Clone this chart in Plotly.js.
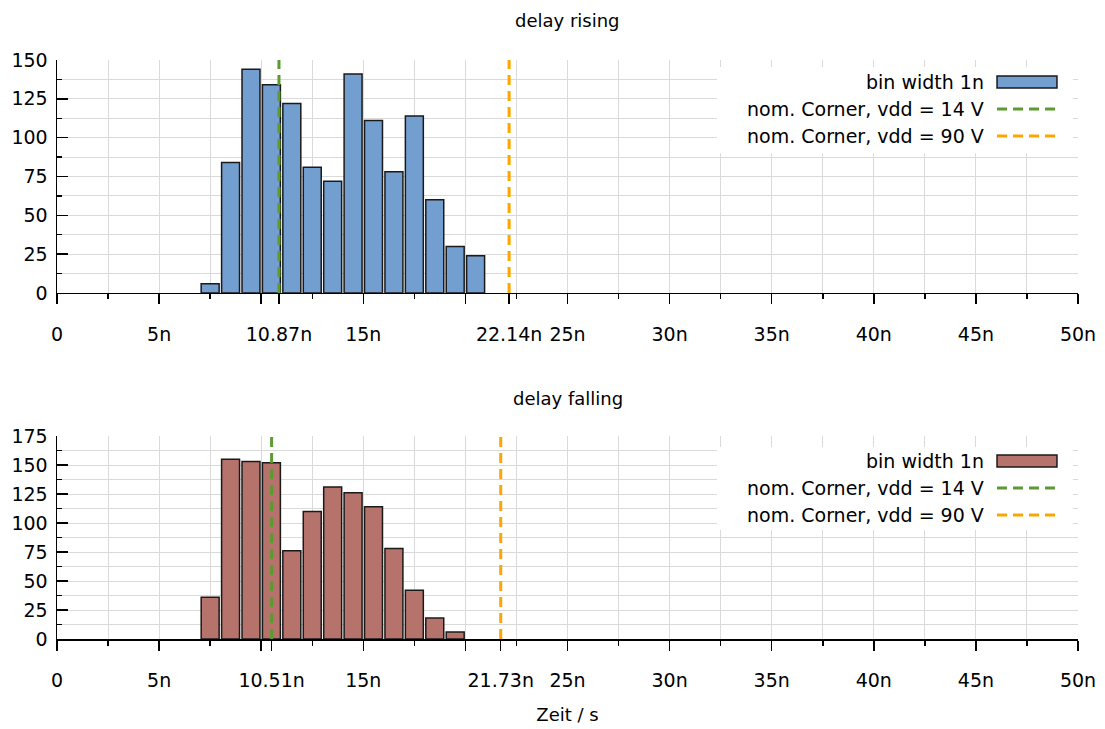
<!DOCTYPE html>
<html>
<head>
<meta charset="utf-8">
<script src="https://cdn.plot.ly/plotly-3.0.1.min.js"></script>
<style>html,body{margin:0;padding:0;background:#fff;}#chart{width:1105px;height:729px;}</style>
</head>
<body>
<div id="chart"></div>
<script>
// bin centres in ns (bin width 1n)
const risingBinCenters = [7.5, 8.5, 9.5, 10.5, 11.5, 12.5, 13.5, 14.5, 15.5, 16.5, 17.5, 18.5, 19.5, 20.5];
const risingCounts     = [6, 84, 144, 134, 122, 81, 72, 141, 111, 78, 114, 60, 30, 24];
const fallingBinCenters = [7.5, 8.5, 9.5, 10.5, 11.5, 12.5, 13.5, 14.5, 15.5, 16.5, 17.5, 18.5, 19.5];
const fallingCounts     = [36, 155, 153, 152, 76, 110, 131, 126, 114, 78, 42, 18, 6];
// nominal corner delays in ns
const risingNom14 = 10.87, risingNom90 = 22.14;
const fallingNom14 = 10.51, fallingNom90 = 21.73;
const risingYMax = 150, fallingYMax = 175;
const risingTickVals  = [0, 5, 10, 10.87, 15, 20, 22.14, 25, 30, 35, 40, 45, 50];
const risingTickText  = ['0', '5n', '', '10.87n', '15n', '', '22.14n', '25n', '30n', '35n', '40n', '45n', '50n'];
const fallingTickVals = [0, 5, 10, 10.51, 15, 20, 21.73, 25, 30, 35, 40, 45, 50];
const fallingTickText = ['0', '5n', '', '10.51n', '15n', '', '21.73n', '25n', '30n', '35n', '40n', '45n', '50n'];
const legendLabels = ['bin width 1n', 'nom. Corner, vdd = 14 V', 'nom. Corner, vdd = 90 V'];
const titles = ['delay rising', 'delay falling'];
const xTitle = 'Zeit / s';

const FONT = 'DejaVu Sans, Verdana, sans-serif';
const FS = 19;
const BLUE = '#729fcf', BROWN = '#b5736b', GREEN = '#5b9b32', ORANGE = '#ffa500';
const GRID = '#dadada';

function barTrace(x, y, color, xa, ya) {
  return {type: 'bar', x: x, y: y, width: 0.88, xaxis: xa, yaxis: ya,
    marker: {color: color, line: {color: '#1a1a1a', width: 1.5}}, showlegend: false, hoverinfo: 'x+y'};
}
function vline(x, ymax, color, xa, ya) {
  return {type: 'scatter', mode: 'lines', x: [x, x], y: [0, ymax], xaxis: xa, yaxis: ya,
    line: {color: color, width: 3, dash: '10px,6px'}, showlegend: false, hoverinfo: 'x'};
}

const data = [
  barTrace(risingBinCenters, risingCounts, BLUE, 'x', 'y'),
  vline(risingNom14, risingYMax, GREEN, 'x', 'y'),
  vline(risingNom90, risingYMax, ORANGE, 'x', 'y'),
  barTrace(fallingBinCenters, fallingCounts, BROWN, 'x2', 'y2'),
  vline(fallingNom14, fallingYMax, GREEN, 'x2', 'y2'),
  vline(fallingNom90, fallingYMax, ORANGE, 'x2', 'y2')
];

function xaxisDef(vals, text, anchor) {
  return {anchor: anchor, range: [0, 50], tickmode: 'array', tickvals: vals, ticktext: text,
    ticks: 'outside', ticklen: 10, tickwidth: 1.5, tickcolor: '#000', showgrid: false,
    showline: true, linecolor: '#000', linewidth: 1.5, zeroline: false,
    ticklabelstandoff: 14,
    tickfont: {family: FONT, size: FS, color: '#000'},
    minor: {dtick: 2.5, tick0: 0, ticks: 'outside', ticklen: 5, tickcolor: '#000', showgrid: true, gridcolor: GRID, gridwidth: 1}};
}
function yaxisDef(max, domain, anchor) {
  return {anchor: anchor, domain: domain, range: [0, max], dtick: 25, tick0: 0,
    ticks: 'inside', ticklen: 11, tickwidth: 1.5, tickcolor: '#000',
    showgrid: true, gridcolor: GRID, gridwidth: 1, zeroline: false,
    showline: true, linecolor: '#000', linewidth: 1.5, ticklabelstandoff: 4,
    tickfont: {family: FONT, size: FS, color: '#000'},
    minor: {dtick: 12.5, tick0: 0, ticks: 'inside', ticklen: 5, tickcolor: '#000', showgrid: true, gridcolor: GRID, gridwidth: 1}};
}

const shapes = [], annotations = [];
function addLegend(xa, ya, fill, rows, box) {
  const xr = xa + ' domain', yr = ya + ' domain';
  shapes.push({type: 'rect', xref: xr, yref: yr, x0: 0.6464, x1: 0.995, y0: box[0], y1: box[1],
    fillcolor: '#fff', line: {width: 0}, layer: 'above'});
  shapes.push({type: 'rect', xref: xr, yref: yr, x0: 0.9207, x1: 0.9794, y0: rows[0] - rows[3], y1: rows[0] + rows[3],
    fillcolor: fill, line: {color: '#1a1a1a', width: 1.5}, layer: 'above'});
  shapes.push({type: 'line', xref: xr, yref: yr, x0: 0.9207, x1: 0.9794, y0: rows[1], y1: rows[1],
    line: {color: GREEN, width: 3, dash: '10px,6px'}, layer: 'above'});
  shapes.push({type: 'line', xref: xr, yref: yr, x0: 0.9207, x1: 0.9794, y0: rows[2], y1: rows[2],
    line: {color: ORANGE, width: 3, dash: '10px,6px'}, layer: 'above'});
  for (let i = 0; i < 3; i++) {
    annotations.push({xref: xr, yref: yr, x: 0.9099, y: rows[i], xanchor: 'right', yanchor: 'middle',
      text: legendLabels[i], showarrow: false, font: {family: FONT, size: FS, color: '#000'}});
  }
}
addLegend('x', 'y', BLUE, [0.9056, 0.7897, 0.6738, 0.026], [0.60, 0.97]);
addLegend('x2', 'y2', BROWN, [0.8768, 0.7438, 0.6108, 0.030], [0.537, 0.946]);

annotations.push({xref: 'paper', yref: 'paper', x: 0.5, y: 1, yshift: 40, xanchor: 'center', yanchor: 'middle',
  text: titles[0], showarrow: false, font: {family: FONT, size: 18, color: '#000'}});
annotations.push({xref: 'paper', yref: 'paper', x: 0.5, y: 0.3506, yshift: 38, xanchor: 'center', yanchor: 'middle',
  text: titles[1], showarrow: false, font: {family: FONT, size: 18, color: '#000'}});

const layout = {
  width: 1105, height: 729,
  margin: {l: 57, r: 27, t: 60, b: 90},
  paper_bgcolor: '#fff', plot_bgcolor: '#fff',
  showlegend: false, bargap: 0,
  font: {family: FONT, size: FS, color: '#000'},
  xaxis: xaxisDef(risingTickVals, risingTickText, 'y'),
  yaxis: yaxisDef(risingYMax, [0.5976, 1], 'x'),
  xaxis2: Object.assign(xaxisDef(fallingTickVals, fallingTickText, 'y2'),
    {title: {text: xTitle, font: {family: FONT, size: 18, color: '#000'}, standoff: 18}}),
  yaxis2: yaxisDef(fallingYMax, [0, 0.3506], 'x2'),
  shapes: shapes, annotations: annotations
};

Plotly.newPlot('chart', data, layout, {displayModeBar: false, staticPlot: true});
</script>
</body>
</html>
